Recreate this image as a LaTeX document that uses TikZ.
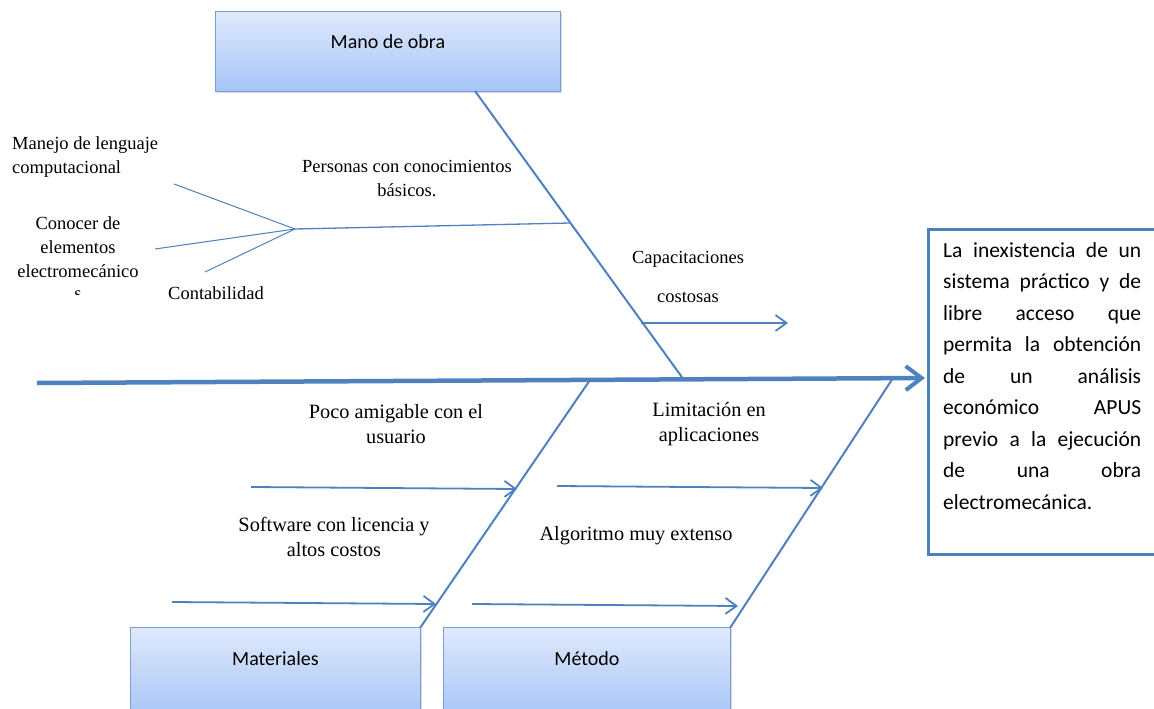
\documentclass[tikz,border=0pt]{standalone}
\usepackage{fontspec}
\setmainfont{Liberation Serif}
\newfontfamily\calfont{Carlito}
\usetikzlibrary{arrows.meta,shadows}

\definecolor{bone}{HTML}{4F81BD}
\definecolor{boxtop}{HTML}{DFE9FC}
\definecolor{boxbot}{HTML}{A7C5F6}
\definecolor{boxedge}{HTML}{7A9ED4}

\begin{document}
\begin{tikzpicture}[x=1pt,y=-1pt,
  catbox/.style={draw=boxedge, line width=0.9pt, top color=boxtop, bottom color=boxbot,
    anchor=north west, inner sep=0pt,
    drop shadow={shadow xshift=2pt, shadow yshift=-2pt, opacity=0.3}},
  catlabel/.style={font=\calfont\fontsize{20}{24}\selectfont, inner sep=0pt},
  cause/.style={font=\fontsize{18.5}{24}\selectfont, inner sep=0pt},
  lowcause/.style={font=\fontsize{20.3}{25}\selectfont, inner sep=0pt},
  bonestyle/.style={draw=bone, line width=2pt},
  spine/.style={draw=bone, line width=4.5pt, -{Straight Barb[length=16pt, width=24pt, line width=4pt]}},
  subarrow/.style={draw=bone, line width=1.8pt, -{Straight Barb[length=11pt, width=16pt, line width=1.8pt]}},
  branch/.style={draw=bone, line width=1.3pt},
  feather/.style={draw=bone, line width=1pt},
  effectbox/.style={draw=bone, line width=3pt, anchor=north west, inner sep=0pt}]

\useasboundingbox (0,0) rectangle (1154,709);

% category boxes
\node[catbox, minimum width=345pt, minimum height=80pt] (mano) at (215,11) {};
\node[catlabel] at ([yshift=-31pt]mano.north) {Mano de obra};
\node[catbox, minimum width=290pt, minimum height=90pt] (mat) at (130,627) {};
\node[catlabel] at ([yshift=-32pt]mat.north) {Materiales};
\node[catbox, minimum width=287pt, minimum height=90pt] (met) at (443,627) {};
\node[catlabel] at ([yshift=-32pt]met.north) {Método};

% effect box
\node[effectbox, minimum width=245pt, minimum height=325pt] (effect) at (927,228) {};
\node[anchor=north west, inner sep=0pt, align=left,
      font=\calfont\fontsize{21.5}{31.5}\selectfont] (efftext) at (943,242) {%
  \makebox[198pt][s]{La inexistencia de un}\\
  \makebox[198pt][s]{sistema práctico y de}\\
  \makebox[198pt][s]{libre acceso que}\\
  \makebox[198pt][s]{permita la obtención}\\
  \makebox[198pt][s]{de un análisis}\\
  \makebox[198pt][s]{económico APUS}\\
  \makebox[198pt][s]{previo a la ejecución}\\
  \makebox[198pt][s]{de una obra}\\
  electromecánica.};

% main spine
\coordinate (tail) at (37,383);
\coordinate (head) at (925,378);
\draw[spine] (tail) -- (head);

% bones
\coordinate (manoA) at (475,91);
\coordinate (manoB) at (684,380);
\coordinate (matA) at (420,628);
\coordinate (matB) at (590,380);
\coordinate (metA) at (730,628);
\coordinate (metB) at (893,378);
\draw[bonestyle] (manoA) -- (manoB);
\draw[bonestyle] (matA) -- (matB);
\draw[bonestyle] (metA) -- (metB);

% sub-causes of Mano de obra
\coordinate (pb) at (570,223);
\coordinate (pj) at (295,229);
\coordinate (f1) at (174,184);
\coordinate (f2) at (155,249);
\coordinate (f3) at (205,272);
\draw[branch] (pb) -- (pj);
\draw[feather] (pj) -- (f1);
\draw[feather] (pj) -- (f2);
\draw[feather] (pj) -- (f3);

\coordinate (cap0) at (641,323);
\coordinate (cap1) at (788,323);
\draw[subarrow] (cap0) -- (cap1);

% sub-causes of Materiales and Método
\coordinate (a1s) at (251,487);
\coordinate (a1e) at (517,489);
\coordinate (a2s) at (172,602);
\coordinate (a2e) at (436,604);
\coordinate (a3s) at (557,486);
\coordinate (a3e) at (823,488);
\coordinate (a4s) at (472,604);
\coordinate (a4e) at (738,606);
\draw[subarrow] (a1s) -- (a1e);
\draw[subarrow] (a2s) -- (a2e);
\draw[subarrow] (a3s) -- (a3e);
\draw[subarrow] (a4s) -- (a4e);

% cause labels
\node[cause, align=left, anchor=west] (lenguaje) at (12,157) {Manejo de lenguaje\\computacional};
\node[cause, align=center] (conocer) at (78,247) {Conocer de\\elementos\\electromecánico};
\begin{scope}
  \clip (70,288.5) rectangle (86,294.5);
  \node[cause] (conocerfin) at (78,295) {s};
\end{scope}
\node[cause, anchor=west] (contab) at (168,293) {Contabilidad};
\node[cause, align=center] (personas) at (407,179) {Personas con conocimientos\\básicos.};
\node[cause, align=center] (capac) at (688,276.5) {Capacitaciones\\[15pt]costosas};
\node[lowcause, align=center] (amigable) at (396,424.5) {Poco amigable con el\\usuario};
\node[lowcause, align=center] (limit) at (709,424) {Limitación en\\aplicaciones};
\node[lowcause, align=center] (software) at (334,537) {Software con licencia y\\altos costos};
\node[lowcause] (algoritmo) at (636,536) {Algoritmo muy extenso};

\end{tikzpicture}
\end{document}
